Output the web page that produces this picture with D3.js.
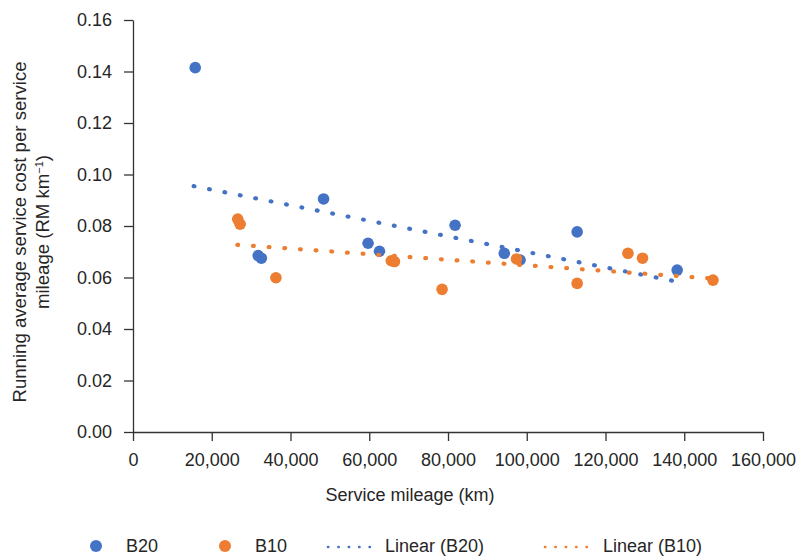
<!DOCTYPE html>
<html>
<head>
<meta charset="utf-8">
<script src="https://cdn.jsdelivr.net/npm/d3@7"></script>
<style>
  body { margin: 0; background: #fff; }
  svg text { font-family: "Liberation Sans", Arial, sans-serif; fill: #262626; }
  .axis path, .axis line { stroke: #333; stroke-width: 1.3px; }
</style>
</head>
<body>
<div id="chart"></div>
<script>
// data
let b20Mileage = [15800, 31800, 32600, 48400, 59700, 62600, 81800, 94300, 98300, 112800, 138200];
let b20Cost = [0.1415, 0.0685, 0.0675, 0.0905, 0.0733, 0.0702, 0.0803, 0.0694, 0.0668, 0.0777, 0.0629];

let b10Mileage = [26600, 27200, 36300, 65600, 66400, 78500, 97400, 112800, 125700, 129400, 147300];
let b10Cost = [0.0827, 0.0807, 0.0599, 0.0665, 0.0662, 0.0554, 0.0672, 0.0577, 0.0694, 0.0675, 0.0590];

// linear trend end points (start, end)
let trendB20 = [[15400, 0.0955], [138200, 0.0584]];
let trendB10 = [[26500, 0.0727], [147300, 0.0596]];

let xTicks = [0, 20000, 40000, 60000, 80000, 100000, 120000, 140000, 160000];
let yTicks = [0, 0.02, 0.04, 0.06, 0.08, 0.10, 0.12, 0.14, 0.16];

let legendItems = ["B20", "B10", "Linear (B20)", "Linear (B10)"];

let blue = "#4472C4";
let orange = "#ED7D31";

let width = 796;
let height = 556;
let margin = {left: 133, top: 20, right: 33, bottom: 124};

let svg = d3.select("#chart").append("svg")
  .attr("width", width)
  .attr("height", height);

let x = d3.scaleLinear().domain([0, 160000]).range([margin.left, width - margin.right]);
let y = d3.scaleLinear().domain([0, 0.16]).range([height - margin.bottom, margin.top]);

// axes
svg.append("g")
  .attr("class", "axis")
  .attr("transform", "translate(0," + y(0) + ")")
  .call(d3.axisBottom(x).tickValues(xTicks).tickSize(9).tickSizeOuter(0).tickPadding(12)
    .tickFormat(d3.format(",")));

svg.append("g")
  .attr("class", "axis")
  .attr("transform", "translate(" + x(0) + ",0)")
  .call(d3.axisLeft(y).tickValues(yTicks).tickSize(9).tickSizeOuter(0).tickPadding(12)
    .tickFormat(d3.format(".2f")));

svg.selectAll(".axis text").style("font-size", "18px");

// axis titles
svg.append("text")
  .attr("x", 410)
  .attr("y", 501)
  .attr("text-anchor", "middle")
  .style("font-size", "18px")
  .text("Service mileage (km)");

let yTitle = svg.append("text")
  .attr("transform", "translate(26,232) rotate(-90)")
  .attr("text-anchor", "middle")
  .style("font-size", "18.6px");
yTitle.append("tspan")
  .attr("x", 0)
  .attr("dy", 0)
  .text("Running average service cost per service");
yTitle.append("tspan")
  .attr("x", 0)
  .attr("dy", 23)
  .text("mileage (RM km");
yTitle.append("tspan")
  .attr("dy", -6)
  .style("font-size", "11px")
  .text("\u22121");
yTitle.append("tspan")
  .attr("dy", 6)
  .text(")");

// scatter points
function drawPoints(xs, ys, color) {
  svg.append("g")
    .selectAll("circle")
    .data(xs.map(function(d, i) { return [d, ys[i]]; }))
    .enter()
    .append("circle")
    .attr("cx", function(d) { return x(d[0]); })
    .attr("cy", function(d) { return y(d[1]); })
    .attr("r", 5.8)
    .style("fill", color);
}
drawPoints(b20Mileage, b20Cost, blue);
drawPoints(b10Mileage, b10Cost, orange);

// dotted trendlines
let line = d3.line()
  .x(function(d) { return x(d[0]); })
  .y(function(d) { return y(d[1]); });

function drawTrend(pts, color) {
  svg.append("path")
    .datum(pts)
    .attr("d", line)
    .style("fill", "none")
    .style("stroke", color)
    .style("stroke-width", 4.2)
    .style("stroke-linecap", "round")
    .style("stroke-dasharray", "0.8,14.9");
}
drawTrend(trendB20, blue);
drawTrend(trendB10, orange);

// legend
let legendY = 546;
let legend = svg.append("g").attr("class", "legend");

legend.append("circle").attr("cx", 96).attr("cy", legendY).attr("r", 6).style("fill", blue);
legend.append("text").attr("x", 126).attr("y", legendY).attr("dy", "0.35em")
  .style("font-size", "18px").text(legendItems[0]);

legend.append("circle").attr("cx", 225).attr("cy", legendY).attr("r", 6).style("fill", orange);
legend.append("text").attr("x", 255).attr("y", legendY).attr("dy", "0.35em")
  .style("font-size", "18px").text(legendItems[1]);

legend.append("line").attr("x1", 328).attr("x2", 380).attr("y1", legendY + 1).attr("y2", legendY + 1)
  .style("stroke", blue).style("stroke-width", 2.6).style("stroke-linecap", "round")
  .style("stroke-dasharray", "0.3,10.1");
legend.append("text").attr("x", 385).attr("y", legendY).attr("dy", "0.35em")
  .style("font-size", "18px").text(legendItems[2]);

legend.append("line").attr("x1", 545).attr("x2", 597).attr("y1", legendY + 1).attr("y2", legendY + 1)
  .style("stroke", orange).style("stroke-width", 2.6).style("stroke-linecap", "round")
  .style("stroke-dasharray", "0.3,10.1");
legend.append("text").attr("x", 603).attr("y", legendY).attr("dy", "0.35em")
  .style("font-size", "18px").text(legendItems[3]);
</script>
</body>
</html>
